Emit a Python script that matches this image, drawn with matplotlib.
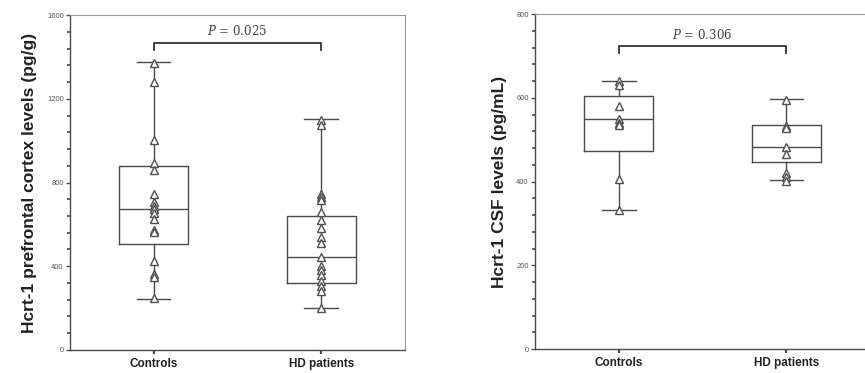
import matplotlib
matplotlib.use("Agg")
import matplotlib.pyplot as plt
from matplotlib.ticker import MultipleLocator

plt.rcParams['font.family'] = ['Liberation Sans', 'DejaVu Sans']
plt.rcParams['mathtext.fontset'] = 'dejavuserif'

# Hcrt-1 prefrontal cortex levels (pg/g)
pfc_controls = [1372, 1281, 1003, 895, 860, 745, 708, 689, 673, 652, 628, 573, 565, 426, 365, 350, 246]
pfc_hd = [1100, 1075, 745, 730, 715, 660, 620, 585, 540, 510, 445, 400, 380, 360, 330, 305, 280, 200]
# box summaries: (whislo, q1, med, q3, whishi)
pfc_box_controls = (244, 506, 673, 880, 1374)
pfc_box_hd = (199, 322, 446, 640, 1103)

# Hcrt-1 CSF levels (pg/mL)
csf_controls = [639, 631, 580, 549, 541, 534, 406, 331]
csf_hd = [595, 533, 529, 483, 466, 420, 412, 402]
csf_box_controls = (332, 473, 549, 605, 640)
csf_box_hd = (404, 446, 483, 534, 596)

groups = ["Controls", "HD patients"]
p_values = ["0.025", "0.306"]

line_col = "#4a4a4a"
text_col = "#555555"

fig = plt.figure(figsize=(8.65, 3.73), dpi=100)
ax1 = fig.add_axes([0.0809, 0.0617, 0.3873, 0.898])
ax2 = fig.add_axes([0.6185, 0.0643, 0.3873, 0.898])


def draw_panel(ax, data, boxes, ymax, major, minor, ylabel, pval, bracket_y, tick_h):
    stats = []
    for name, b in zip(groups, boxes):
        stats.append(dict(label=name, whislo=b[0], q1=b[1], med=b[2], q3=b[3], whishi=b[4]))
    ax.bxp(stats, positions=[1, 2], widths=0.41, showfliers=False,
           boxprops=dict(color=line_col, lw=1.0),
           whiskerprops=dict(color=line_col, lw=1.0),
           capprops=dict(color=line_col, lw=1.0),
           medianprops=dict(color=line_col, lw=1.0),
           capwidths=0.2, zorder=2)
    for i, vals in enumerate(data):
        ax.plot([i + 1] * len(vals), vals, linestyle="none", marker="^",
                markersize=5.5, markerfacecolor="white", markeredgecolor="#4f4f4f",
                markeredgewidth=1.0, zorder=3)
    ax.set_xlim(0.5, 2.5)
    ax.set_ylim(0, ymax)
    ax.yaxis.set_major_locator(MultipleLocator(major))
    ax.yaxis.set_minor_locator(MultipleLocator(minor))
    ax.set_xticks([1, 2])
    ax.set_xticklabels(groups, fontsize=8.5, fontweight="bold", color="#222222")
    ax.tick_params(axis="y", which="major", length=3, width=1.0, color=line_col,
                   labelsize=5.5, labelcolor=text_col, pad=1.5)
    ax.tick_params(axis="y", which="minor", length=2, width=1.2, color=line_col)
    ax.tick_params(axis="x", length=3, width=1.6, color=line_col, pad=3)
    for side in ["left", "bottom"]:
        ax.spines[side].set_color(line_col)
        ax.spines[side].set_linewidth(1.0)
    for side in ["top", "right"]:
        ax.spines[side].set_color("#999999")
        ax.spines[side].set_linewidth(0.8)
    ax.set_ylabel(ylabel, fontsize=12.5, fontweight="bold", color="#222222", labelpad=7)
    # significance bracket
    ax.plot([1, 1, 2, 2], [bracket_y - tick_h, bracket_y, bracket_y, bracket_y - tick_h],
            color="#333333", lw=1.3)
    ax.text(1.5, bracket_y + tick_h * 0.6, r"$\mathit{P}$" + " = " + pval,
            ha="center", va="bottom", fontsize=8.5, family="DejaVu Serif", color="#444444")


draw_panel(ax1, [pfc_controls, pfc_hd], [pfc_box_controls, pfc_box_hd], 1600, 400, 80,
           "Hcrt-1 prefrontal cortex levels (pg/g)", p_values[0], 1468, 35)
draw_panel(ax2, [csf_controls, csf_hd], [csf_box_controls, csf_box_hd], 800, 200, 40,
           "Hcrt-1 CSF levels (pg/mL)", p_values[1], 724, 17)
ax2.spines["right"].set_visible(False)

fig.savefig("out.png", dpi=100)
